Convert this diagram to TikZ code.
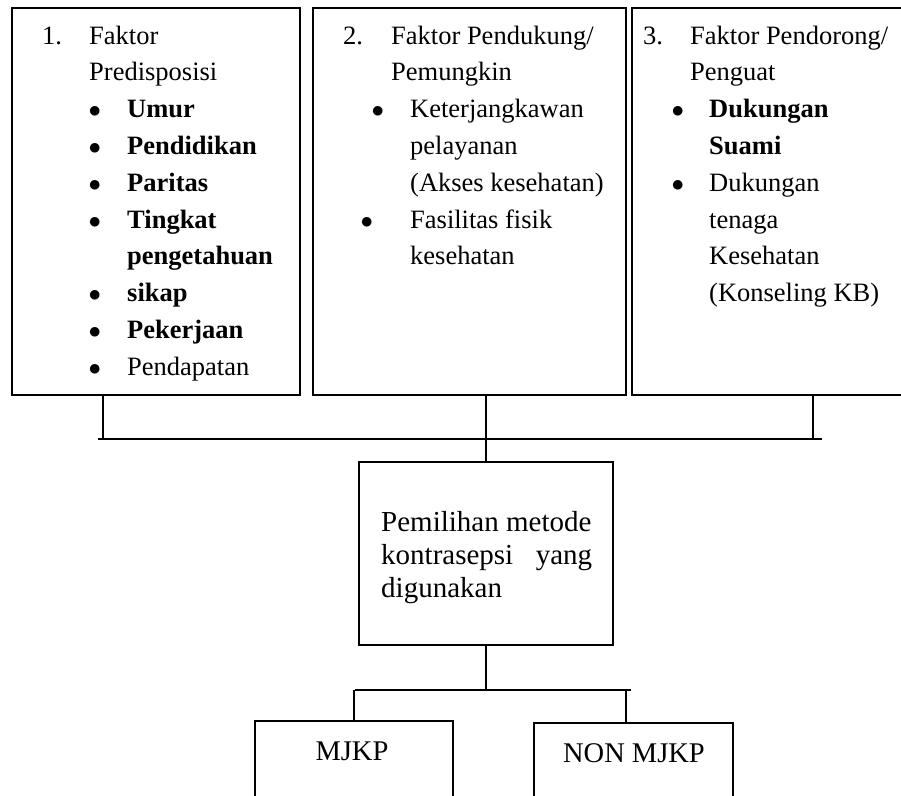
\documentclass[tikz,border=0pt]{standalone}
\usepackage{fontspec}
\setmainfont{Liberation Serif}
\newcommand{\titik}{$\bullet$}

\begin{document}
\begin{tikzpicture}[
        x=1pt, y=-1pt,
        kotak/.style={shape=rectangle, draw=black, line width=2pt, inner sep=0pt},
        isi/.style={anchor=base west, inner sep=0pt, font=\fontsize{26.5}{36.8}\selectfont},
        teks/.style={anchor=base, inner sep=0pt, font=\fontsize{28.5}{33}\selectfont},
        garis/.style={line width=1.2pt},
    ]
    \useasboundingbox (0,0) rectangle (901,795);

    % kotak faktor
    \node[kotak, minimum width=288, minimum height=387] (faktor1) at (156, 201.5) {};
    \node[kotak, minimum width=313, minimum height=387] (faktor2) at (469.5, 201.5) {};
    \node[kotak, minimum width=278, minimum height=387] (faktor3) at (771, 201.5) {};

    \node[isi] (isi1) at (42, 44) {\begin{tabular}[t]{@{}l@{}}
        \makebox[47pt][l]{1.}Faktor\\
        \hspace*{47pt}Predisposisi\\
        \hspace*{46.4pt}\makebox[38.6pt][l]{\titik}\textbf{Umur}\\
        \hspace*{46.4pt}\makebox[38.6pt][l]{\titik}\textbf{Pendidikan}\\
        \hspace*{46.4pt}\makebox[38.6pt][l]{\titik}\textbf{Paritas}\\
        \hspace*{46.4pt}\makebox[38.6pt][l]{\titik}\textbf{Tingkat}\\
        \hspace*{85pt}\textbf{pengetahuan}\\
        \hspace*{46.4pt}\makebox[38.6pt][l]{\titik}\textbf{sikap}\\
        \hspace*{46.4pt}\makebox[38.6pt][l]{\titik}\textbf{Pekerjaan}\\
        \hspace*{46.4pt}\makebox[38.6pt][l]{\titik}Pendapatan
    \end{tabular}};
    \node[isi] (isi2) at (343, 44) {\begin{tabular}[t]{@{}l@{}}
        \makebox[48pt][l]{2.}Faktor Pendukung/\\
        \hspace*{48pt}Pemungkin\\
        \hspace*{28.4pt}\makebox[38.6pt][l]{\titik}Keterjangkawan\\
        \hspace*{67pt}pelayanan\\
        \hspace*{67pt}(Akses kesehatan)\\
        \hspace*{17.4pt}\makebox[49.6pt][l]{\titik}Fasilitas fisik\\
        \hspace*{67pt}kesehatan
    \end{tabular}};
    \node[isi] (isi3) at (643, 44) {\begin{tabular}[t]{@{}l@{}}
        \makebox[47pt][l]{3.}Faktor Pendorong/\\
        \hspace*{47pt}Penguat\\
        \hspace*{28.4pt}\makebox[37.6pt][l]{\titik}\textbf{Dukungan}\\
        \hspace*{66pt}\textbf{Suami}\\
        \hspace*{28.4pt}\makebox[37.6pt][l]{\titik}Dukungan\\
        \hspace*{66pt}tenaga\\
        \hspace*{66pt}Kesehatan\\
        \hspace*{66pt}(Konseling KB)
    \end{tabular}};

    % kotak tengah dan bawah
    \node[kotak, minimum width=254, minimum height=183] (pilih) at (486, 553.5) {};
    \node[isi, font=\fontsize{29}{33}\selectfont] (isipilih) at (381, 531) {\begin{tabular}[t]{@{}l@{}}
        Pemilihan metode\\
        \makebox[211pt][s]{kontrasepsi\hfill yang}\\
        digunakan
    \end{tabular}};
    \node[kotak, minimum width=198, minimum height=79] (mjkp) at (354, 760.5) {};
    \node[kotak, minimum width=199, minimum height=77] (nonmjkp) at (633.5, 761.5) {};
    \node[teks] (tmjkp) at (352, 760) {MJKP};
    \node[teks] (tnonmjkp) at (634, 762) {NON MJKP};

    % garis penghubung
    \coordinate (bus1) at (98, 439);
    \coordinate (bus2) at (822, 439);
    \coordinate (t1) at (103, 439);
    \coordinate (t3) at (813, 439);
    \coordinate (bus3) at (355, 690);
    \coordinate (bus4) at (631, 690);
    \coordinate (t5) at (626, 690);

    \draw[garis] (bus1) -- (bus2);
    \draw[garis] (t1 |- faktor1.south) -- (t1);
    \draw[garis] (t3 |- faktor3.south) -- (t3);
    \draw[garis] (pilih.north |- faktor2.south) -- (pilih.north);
    \draw[garis] (pilih.south) -- (pilih.south |- bus3);
    \draw[garis] (bus3) -- (bus4);
    \draw[garis] (mjkp.north |- bus3) -- (mjkp.north);
    \draw[garis] (t5) -- (t5 |- nonmjkp.north);

\end{tikzpicture}
\end{document}
